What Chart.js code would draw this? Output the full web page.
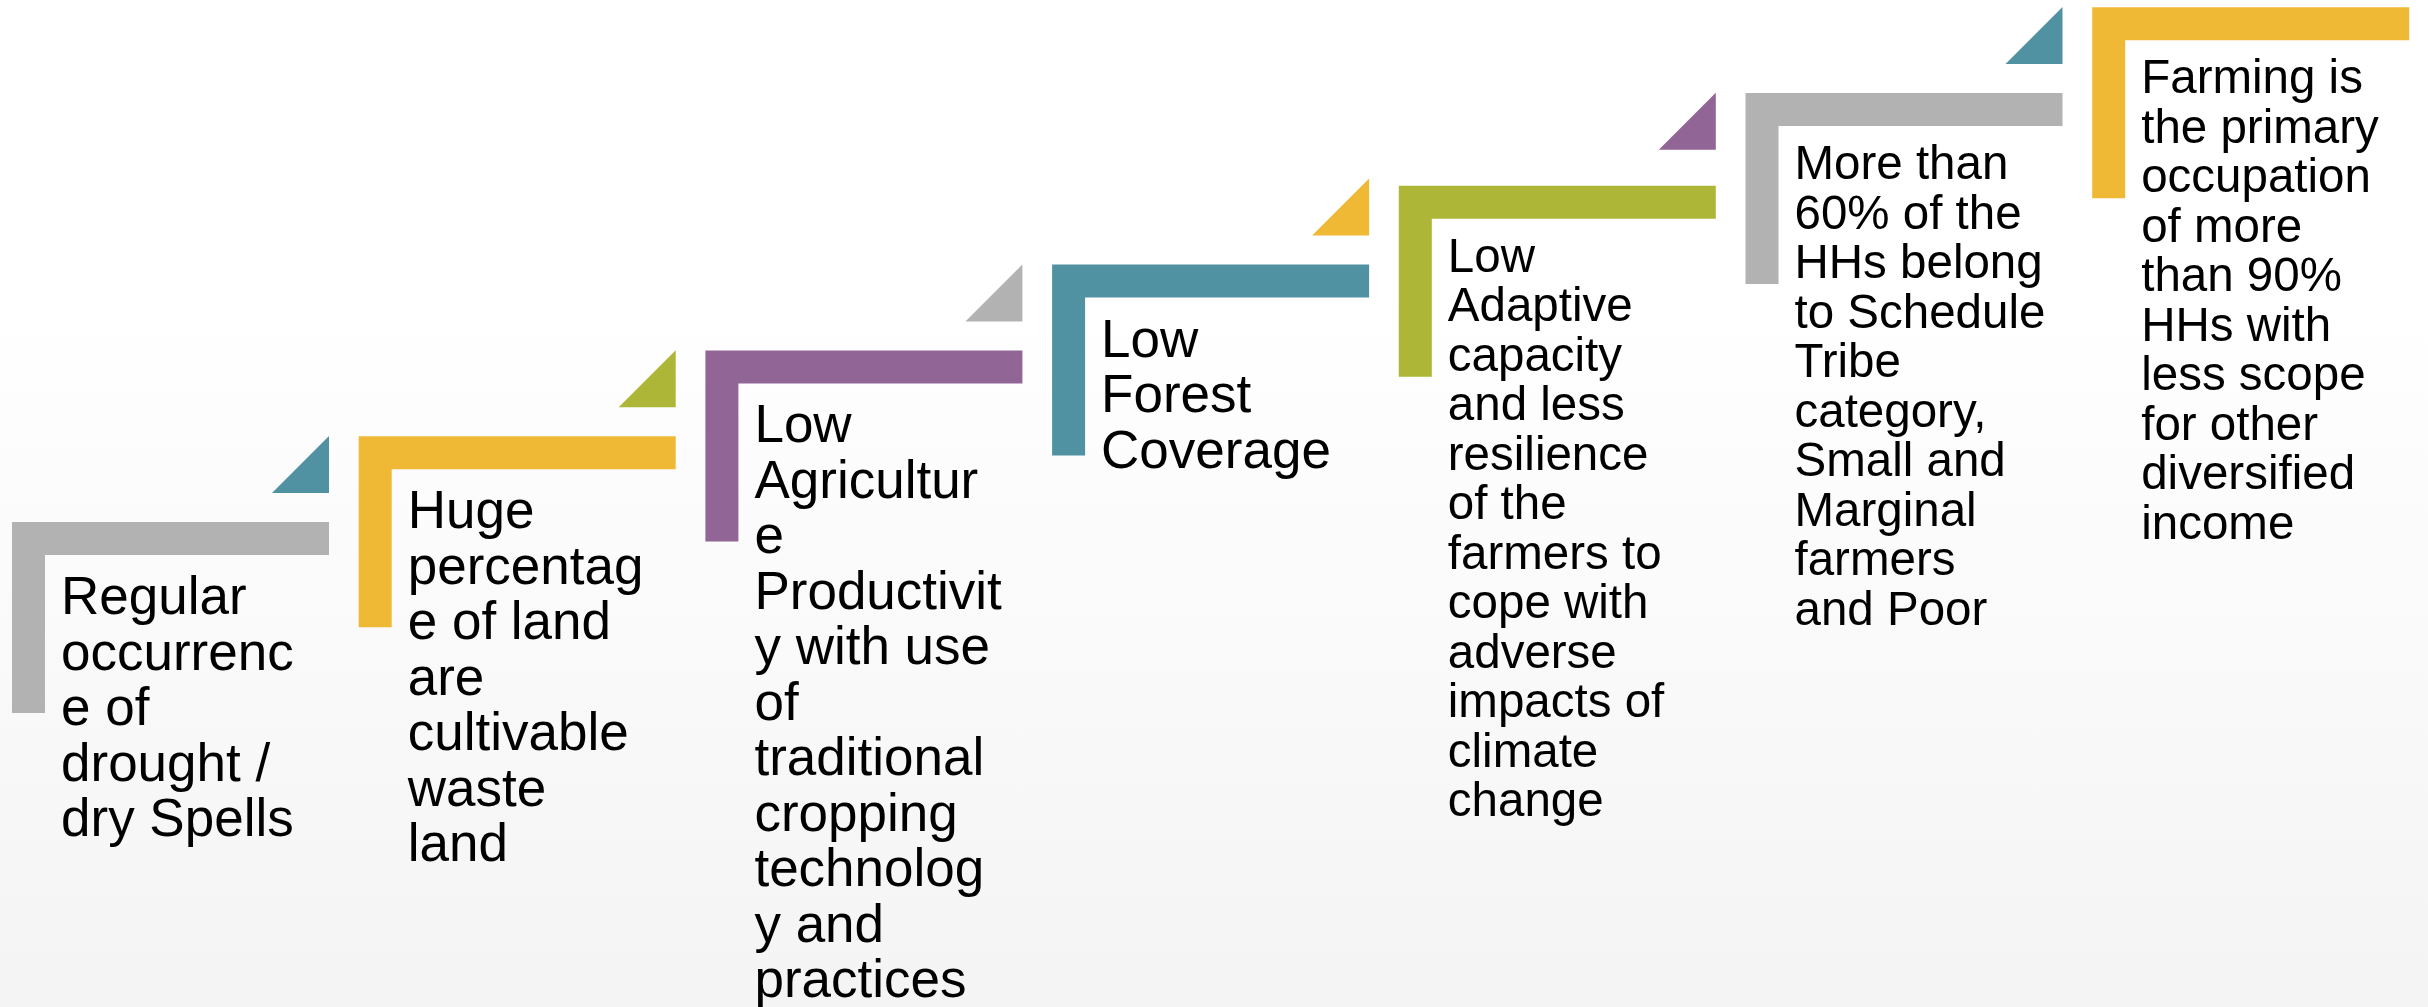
<!DOCTYPE html>
<html>
<head>
<meta charset="utf-8">
<script src="https://cdn.jsdelivr.net/npm/chart.js@4"></script>
<style>
  html, body { margin: 0; padding: 0; }
  body { width: 2428px; height: 1007px; overflow: hidden;
         background: linear-gradient(to bottom, #ffffff 30%, #f4f4f4 100%); }
  #wrap { position: relative; width: 2428px; height: 1007px; }
</style>
</head>
<body>
<div id="wrap"><canvas id="stairs"></canvas></div>
<script>
// one entry per step, bottom-left to top-right
const stepLabels = [
  ['Regular', 'occurrenc', 'e of', 'drought /', 'dry Spells'],
  ['Huge', 'percentag', 'e of land', 'are', 'cultivable', 'waste', 'land'],
  ['Low', 'Agricultur', 'e', 'Productivit', 'y with use', 'of', 'traditional', 'cropping', 'technolog', 'y and', 'practices'],
  ['Low', 'Forest', 'Coverage'],
  ['Low', 'Adaptive', 'capacity', 'and less', 'resilience', 'of the', 'farmers to', 'cope with', 'adverse', 'impacts of', 'climate', 'change'],
  ['More than', '60% of the', 'HHs belong', 'to Schedule', 'Tribe', 'category,', 'Small and', 'Marginal', 'farmers', 'and Poor'],
  ['Farming is', 'the primary', 'occupation', 'of more', 'than 90%', 'HHs with', 'less scope', 'for other', 'diversified', 'income'],
];
const barColors = ['#b2b2b2', '#efb935', '#916595', '#5092a2', '#adb636', '#b2b2b2', '#efb935'];
// small corner triangles between steps (none after the last one)
const cornerColors = ['#5092a2', '#adb636', '#b2b2b2', '#efb935', '#916595', '#5092a2'];

// layout of the staircase, in canvas units
const X0 = 12, DX = 346.7, Y0 = 522, DY = 85.8;
const BAR_LEN = 317, BAR_W = 33, LEG_LEN = 191, TRI = 57, TRI_GAP = 29;
const NUDGE = { 4: 7 }; // the fifth step sits a little lower than the grid

const stepLeft = i => X0 + DX * i;
const stepTop = i => Y0 - DY * i + (NUDGE[i] || 0);
const gridTop = i => Y0 - DY * i;

function lShape(i) {
  const x = stepLeft(i), y = stepTop(i);
  return [
    { x: x, y: y }, { x: x + BAR_LEN, y: y }, { x: x + BAR_LEN, y: y + BAR_W },
    { x: x + BAR_W, y: y + BAR_W }, { x: x + BAR_W, y: y + LEG_LEN }, { x: x, y: y + LEG_LEN },
    { x: x, y: y },
  ];
}

function corner(i) {
  const r = stepLeft(i) + BAR_LEN, b = gridTop(i) - TRI_GAP;
  return [{ x: r, y: b - TRI }, { x: r, y: b }, { x: r - TRI, y: b }, { x: r, y: b - TRI }];
}

const shape = (data, color) => ({
  data, showLine: true, fill: 'shape', backgroundColor: color,
  borderColor: 'transparent', borderWidth: 0, pointRadius: 0, tension: 0,
});

const datasets = [
  ...barColors.map((c, i) => shape(lShape(i), c)),
  ...cornerColors.map((c, i) => shape(corner(i), c)),
];

// writes each step's lines under its bar, positioned through the scales
const stepText = {
  id: 'stepText',
  afterDatasetsDraw(chart) {
    const { ctx, scales: { x, y } } = chart;
    ctx.save();
    ctx.fillStyle = '#000';
    ctx.textAlign = 'left';
    ctx.textBaseline = 'alphabetic';
    stepLabels.forEach((lines, i) => {
      const big = i < 4;
      const size = big ? 53 : 47.5, lead = big ? 55.5 : 49.5, first = big ? 92 : 86;
      ctx.font = `${size}px "Liberation Sans", Arial, sans-serif`;
      lines.forEach((t, k) => {
        ctx.fillText(t, x.getPixelForValue(stepLeft(i) + 49),
                        y.getPixelForValue(stepTop(i) + first + lead * k));
      });
    });
    ctx.restore();
  }
};

new Chart(document.getElementById('stairs'), {
  type: 'scatter',
  data: { datasets },
  options: {
    responsive: true, maintainAspectRatio: false, animation: false,
    layout: { padding: 0 },
    plugins: { legend: { display: false }, tooltip: { enabled: false } },
    scales: {
      x: { type: 'linear', min: 0, max: 2428, display: false },
      y: { type: 'linear', min: 0, max: 1007, reverse: true, display: false },
    },
  },
  plugins: [stepText],
});
</script>
</body>
</html>
